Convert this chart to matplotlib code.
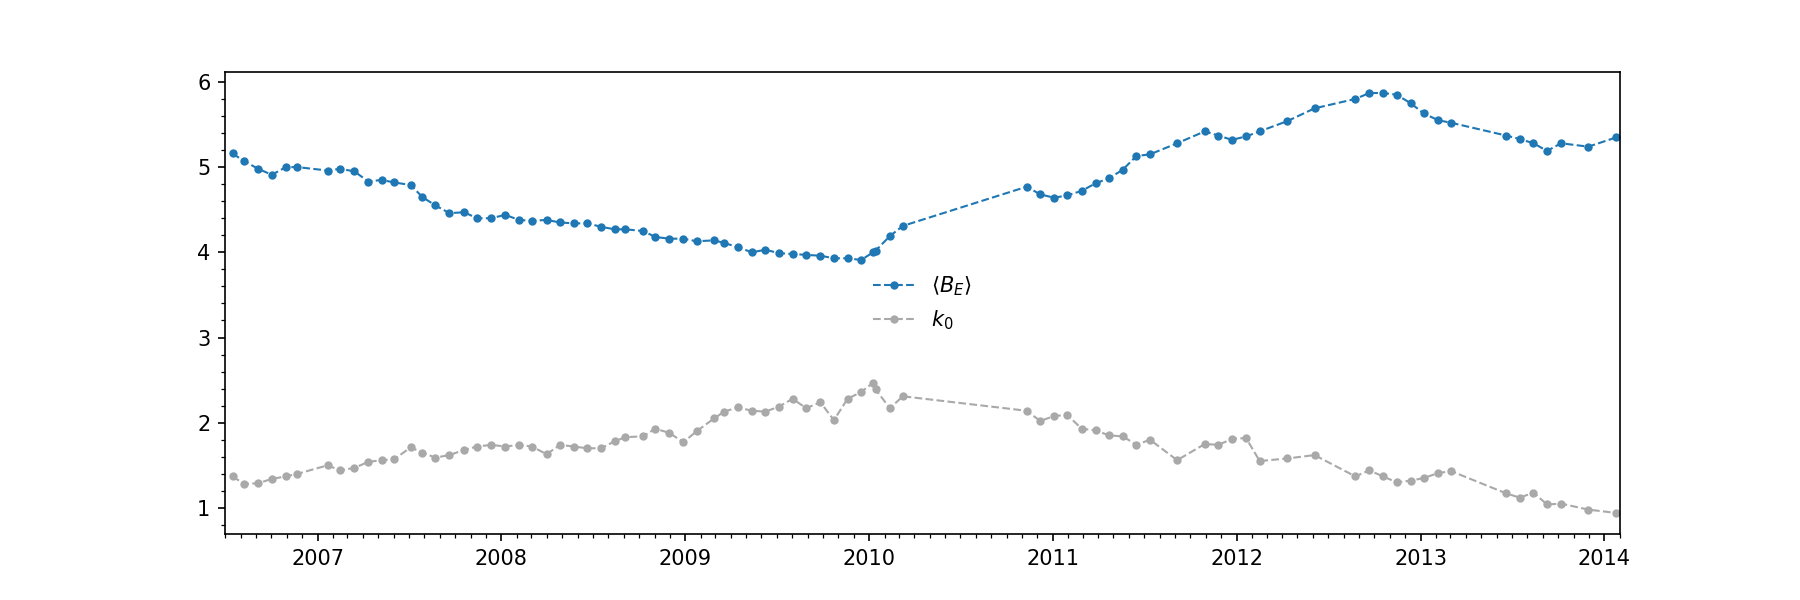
import pandas as pd
import matplotlib
matplotlib.use("Agg")
import matplotlib.pyplot as plt
import matplotlib.dates as mdates
from matplotlib.ticker import AutoMinorLocator

# sample dates
dates = pd.to_datetime([
    "2006-07-16", "2006-08-08", "2006-09-05", "2006-10-02", "2006-10-30", "2006-11-22",
    "2007-01-21", "2007-02-15", "2007-03-15", "2007-04-12", "2007-05-08", "2007-06-02",
    "2007-07-05", "2007-07-28", "2007-08-23", "2007-09-20", "2007-10-19", "2007-11-14",
    "2007-12-12", "2008-01-09", "2008-02-05", "2008-03-02", "2008-03-31", "2008-04-27",
    "2008-05-24", "2008-06-20", "2008-07-17", "2008-08-13", "2008-09-03", "2008-10-09",
    "2008-11-02", "2008-11-30", "2008-12-28", "2009-01-23", "2009-02-27", "2009-03-19",
    "2009-04-15", "2009-05-13", "2009-06-09", "2009-07-06", "2009-08-02", "2009-08-29",
    "2009-09-26", "2009-10-23", "2009-11-19", "2009-12-16", "2010-01-09", "2010-01-14",
    "2010-02-11", "2010-03-09", "2010-11-10", "2010-12-07", "2011-01-04", "2011-01-30",
    "2011-02-27", "2011-03-27", "2011-04-23", "2011-05-20", "2011-06-16", "2011-07-13",
    "2011-09-05", "2011-10-30", "2011-11-26", "2011-12-23", "2012-01-20", "2012-02-16",
    "2012-04-11", "2012-06-04", "2012-08-24", "2012-09-21", "2012-10-18", "2012-11-14",
    "2012-12-12", "2013-01-07", "2013-02-05", "2013-03-03", "2013-06-20", "2013-07-17",
    "2013-08-13", "2013-09-09", "2013-10-07", "2013-11-30", "2014-01-25",
])

mean_be = [
    5.16, 5.07, 4.98, 4.91, 5.00, 5.00,
    4.96, 4.98, 4.95, 4.83, 4.85, 4.82,
    4.79, 4.65, 4.55, 4.46, 4.47, 4.40,
    4.40, 4.44, 4.38, 4.37, 4.38, 4.35,
    4.34, 4.34, 4.30, 4.27, 4.27, 4.25,
    4.18, 4.16, 4.16, 4.13, 4.14, 4.11,
    4.06, 4.00, 4.03, 3.99, 3.98, 3.97,
    3.96, 3.93, 3.93, 3.91, 4.00, 4.02,
    4.19, 4.31, 4.77, 4.68, 4.64, 4.67,
    4.72, 4.81, 4.87, 4.97, 5.13, 5.15,
    5.28, 5.42, 5.37, 5.32, 5.36, 5.42,
    5.54, 5.69, 5.80, 5.87, 5.87, 5.85,
    5.75, 5.63, 5.55, 5.52, 5.37, 5.33,
    5.28, 5.19, 5.28, 5.24, 5.35,
]

k0 = [
    1.37, 1.28, 1.29, 1.34, 1.37, 1.40,
    1.50, 1.44, 1.47, 1.54, 1.56, 1.57,
    1.71, 1.65, 1.59, 1.62, 1.68, 1.72,
    1.74, 1.72, 1.74, 1.72, 1.63, 1.74,
    1.72, 1.70, 1.70, 1.78, 1.83, 1.84,
    1.93, 1.88, 1.77, 1.90, 2.05, 2.13,
    2.18, 2.14, 2.13, 2.19, 2.28, 2.17,
    2.24, 2.03, 2.28, 2.36, 2.47, 2.39,
    2.17, 2.31, 2.14, 2.02, 2.08, 2.09,
    1.93, 1.91, 1.85, 1.84, 1.74, 1.80,
    1.56, 1.75, 1.74, 1.81, 1.82, 1.55,
    1.58, 1.62, 1.37, 1.44, 1.37, 1.30,
    1.32, 1.35, 1.41, 1.43, 1.17, 1.12,
    1.18, 1.04, 1.05, 0.98, 0.94,
]

fig, ax = plt.subplots(figsize=(12, 4), dpi=150)

ax.plot(dates, mean_be, "o--", color="#1f77b4", markersize=3, linewidth=1,
        label=r"$\langle B_E \rangle$")
ax.plot(dates, k0, "o--", color="darkgray", markersize=3, linewidth=1,
        label=r"$k_0$")

ax.set_xlim(pd.Timestamp("2006-07-01"), pd.Timestamp("2014-02-01"))
ax.xaxis.set_major_locator(mdates.YearLocator())
ax.xaxis.set_major_formatter(mdates.DateFormatter("%Y"))
ax.xaxis.set_minor_locator(mdates.MonthLocator())
ax.yaxis.set_minor_locator(AutoMinorLocator())

ax.legend(loc="center", frameon=False)

plt.savefig("out.png")
